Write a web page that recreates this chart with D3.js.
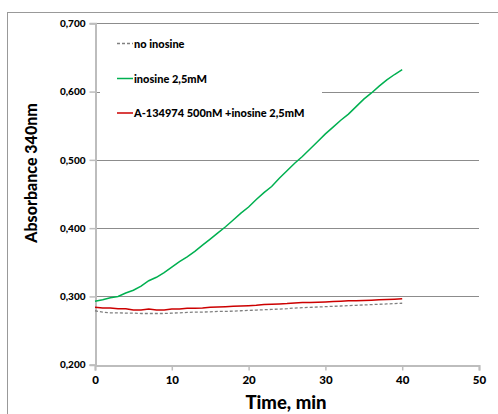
<!DOCTYPE html>
<html><head><meta charset="utf-8">
<script src="https://cdn.jsdelivr.net/npm/d3@7"></script>
<style>body{margin:0;background:#fff}svg{display:block}text{font-family:Lato,"Open Sans",sans-serif;font-weight:bold}</style>
</head><body><div id="chart"></div>
<script>
const times = d3.range(0, 41);
const inosine = [0.293,0.295,0.298,0.300,0.305,0.309,0.315,0.323,0.328,0.335,0.343,0.351,0.358,0.366,0.375,0.384,0.393,0.402,0.412,0.422,0.431,0.442,0.452,0.461,0.473,0.484,0.495,0.505,0.516,0.527,0.538,0.548,0.558,0.567,0.578,0.589,0.598,0.608,0.617,0.625,0.632];
const inhibitor = [0.284,0.283,0.283,0.282,0.282,0.280,0.280,0.2815,0.280,0.280,0.2815,0.2815,0.2825,0.2825,0.283,0.284,0.2845,0.285,0.2855,0.286,0.2865,0.287,0.288,0.2885,0.289,0.2895,0.2905,0.291,0.291,0.2915,0.292,0.2925,0.293,0.2935,0.2935,0.294,0.2945,0.295,0.2955,0.296,0.2967];
const noInosine = [0.279,0.277,0.276,0.276,0.2755,0.2755,0.275,0.275,0.275,0.275,0.2755,0.276,0.2765,0.277,0.277,0.2775,0.278,0.278,0.2785,0.279,0.2795,0.280,0.2805,0.281,0.2815,0.282,0.283,0.2835,0.284,0.2845,0.285,0.2855,0.286,0.2865,0.287,0.2875,0.288,0.2885,0.289,0.2895,0.290];
const seriesNames = ["no inosine","inosine 2,5mM","A-134974 500nM +inosine 2,5mM"];
const yTicks = [0.2,0.3,0.4,0.5,0.6,0.7];
const xTicks = [0,10,20,30,40,50];

const W=498,H=414;
const svg=d3.select("#chart").append("svg").attr("width",W).attr("height",H);
svg.append("rect").attr("x",7.5).attr("y",12.5).attr("width",W).attr("height",H).attr("fill","#fff").attr("stroke","#999");

const x=d3.scaleLinear().domain([0,50]).range([95,479]);
const y=d3.scaleLinear().domain([0.2,0.7]).range([364.7,23.3]);

// gridlines
svg.append("g").selectAll("line").data(yTicks.filter(d=>d>0.2)).join("line")
 .attr("x1",x(0)).attr("x2",x(50)).attr("y1",d=>Math.round(y(d))+0.5).attr("y2",d=>Math.round(y(d))+0.5)
 .attr("stroke","#8c8c8c").attr("stroke-width",1);

// legend background
svg.append("rect").attr("x",100).attr("y",30).attr("width",222).attr("height",92).attr("fill","#fff");

// axes
const fmt=d=>d3.format(".3f")(d).replace(".",",");
const yAxis=svg.append("g").attr("transform",`translate(${x(0)+0.5},0)`)
 .call(d3.axisLeft(y).tickValues(yTicks).tickFormat(fmt).tickSize(6).tickPadding(4));
const xAxis=svg.append("g").attr("transform",`translate(0,${Math.round(y(0.2))+0.5})`)
 .call(d3.axisBottom(x).tickValues(xTicks).tickSize(5).tickPadding(5));
[yAxis,xAxis].forEach(g=>{
 g.select(".domain").attr("stroke","#bdbdbd").attr("stroke-width",2);
 g.selectAll(".tick line").attr("stroke","#bdbdbd").attr("stroke-width",1.5);
 g.selectAll("text").attr("fill","#000").style("font-family","Lato,sans-serif").style("font-weight","900");
});
yAxis.selectAll("text").attr("font-size",10);
xAxis.selectAll("text").attr("font-size",11.5);

// lines
const line=d3.line().x((d,i)=>x(times[i])).y(d=>y(d));
svg.append("path").datum(noInosine).attr("d",line).attr("fill","none").attr("stroke","#808080").attr("stroke-width",1.3).attr("stroke-dasharray","3,2");
svg.append("path").datum(inhibitor).attr("d",line).attr("fill","none").attr("stroke","#cc0000").attr("stroke-width",1.5);
svg.append("path").datum(inosine).attr("d",line).attr("fill","none").attr("stroke","#00b050").attr("stroke-width",1.5);

// legend
const legColors=["#808080","#00b050","#cc0000"];
const legY=[43.5,78.5,113];
seriesNames.forEach((n,i)=>{
 svg.append("line").attr("x1",117).attr("x2",133).attr("y1",legY[i]).attr("y2",legY[i])
  .attr("stroke",legColors[i]).attr("stroke-width",1.5).attr("stroke-dasharray",i===0?"3,2":null);
 svg.append("text").attr("x",134).attr("y",legY[i]+4).attr("font-size",11).attr("fill","#000").style("font-weight","900").text(n);
});

// axis titles
svg.append("text").attr("transform","translate(37,173) rotate(-90)").attr("text-anchor","middle")
 .attr("font-size",16).attr("fill","#000").style("font-weight","900").text("Absorbance 340nm");
svg.append("text").attr("x",286).attr("y",409).attr("text-anchor","middle").attr("font-size",18.5).attr("fill","#000").style("font-weight","900").text("Time, min");
</script></body></html>
